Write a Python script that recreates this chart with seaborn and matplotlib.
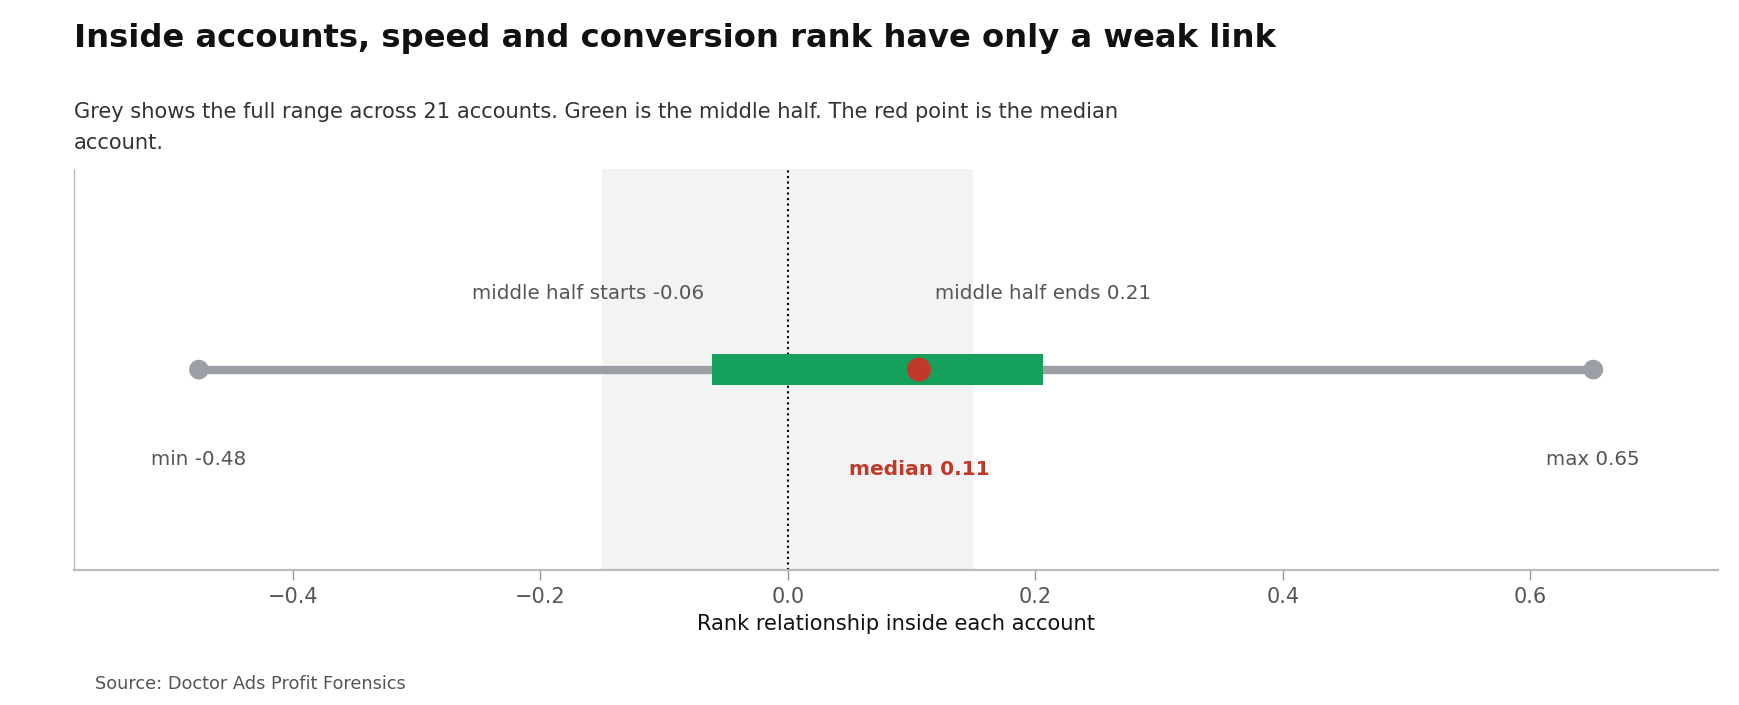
import matplotlib
matplotlib.use("Agg")
import matplotlib.pyplot as plt
import pandas as pd
import seaborn as sns

# summary of the per-account rank relationship (21 accounts)
stat_names = ["min", "q1", "median", "q3", "max"]
stat_values = [-0.476, -0.061, 0.106, 0.206, 0.651]
n_accounts = 21
ref_band = [-0.15, 0.15]
x_ticks = [-0.4, -0.2, 0.0, 0.2, 0.4, 0.6]

stats = dict(zip(stat_names, stat_values))
mn, q1, med, q3, mx = stat_values

GREY = "#9aa0a6"
GREEN = "#15a05c"
RED = "#c0392b"
LABEL = "#555555"

sns.set_theme(style="white")
plt.rcParams["font.family"] = ["DejaVu Sans"]

fig = plt.figure(figsize=(17.4, 7.05), dpi=100)
ax = fig.add_axes([0.0425, 0.1915, 0.945, 0.5685])

ax.axvspan(ref_band[0], ref_band[1], color="#f3f3f3", zorder=0, lw=0)
ax.axvline(0, color="black", ls=":", lw=1.5, zorder=1)

rng = pd.DataFrame({"x": [mn, mx], "y": [0, 0]})
sns.lineplot(data=rng, x="x", y="y", color=GREY, lw=6, ax=ax, zorder=2,
             solid_capstyle="butt")
sns.scatterplot(data=rng, x="x", y="y", color=GREY, s=200, edgecolor="none",
                ax=ax, zorder=3)
ax.barh([0], [q3 - q1], left=[q1], height=0.155, color=GREEN, lw=0,
        edgecolor="none", zorder=4)
sns.scatterplot(x=[med], y=[0], color=RED, s=300, edgecolor="none", ax=ax, zorder=5)

ax.annotate(f"middle half starts {q1:.2f}", xy=(q1, 0.38), xytext=(-8, 0),
            textcoords="offset pixels", ha="right", va="center",
            fontsize=14.3, color=LABEL)
ax.text(q3, 0.38, f"middle half ends {q3:.2f}", ha="center", va="center",
        fontsize=14.3, color=LABEL)
ax.text(mn, -0.45, f"min {mn:.2f}", ha="center", va="center", fontsize=14.3, color=LABEL)
ax.text(mx, -0.45, f"max {mx:.2f}", ha="center", va="center", fontsize=14.3, color=LABEL)
ax.text(med, -0.50, f"median {med:.2f}", ha="center", va="center", fontsize=14.5,
        color=RED, fontweight="bold")

ax.set_xlim(-0.577, 0.752)
ax.set_ylim(-1, 1)
ax.set_xticks(x_ticks)
ax.set_yticks([])
ax.set_ylabel("")
ax.set_xlabel("Rank relationship inside each account", fontsize=15.1, color="#111111",
              labelpad=5)
ax.tick_params(axis="x", length=7, width=1, color="#999999", labelsize=15,
               labelcolor=LABEL, pad=5, bottom=True)
for side in ["top", "right"]:
    ax.spines[side].set_visible(False)
ax.spines["left"].set_color("#bbbbbb")
ax.spines["left"].set_linewidth(1)
ax.spines["bottom"].set_color("#bbbbbb")
ax.spines["bottom"].set_linewidth(1.6)

fig.text(0.0425, 0.945, "Inside accounts, speed and conversion rank have only a weak link",
         fontsize=23.2, fontweight="bold", color="#111111", va="center", ha="left")
fig.text(0.0425, 0.855,
         f"Grey shows the full range across {n_accounts} accounts. Green is the middle half. "
         "The red point is the median\naccount.",
         fontsize=15.1, color="#333333", va="top", ha="left", linespacing=1.7)
fig.text(0.0548, 0.0303, "Source: Doctor Ads Profit Forensics", fontsize=12.8,
         color=LABEL, va="center", ha="left")

fig.savefig("out.png", dpi=100)
